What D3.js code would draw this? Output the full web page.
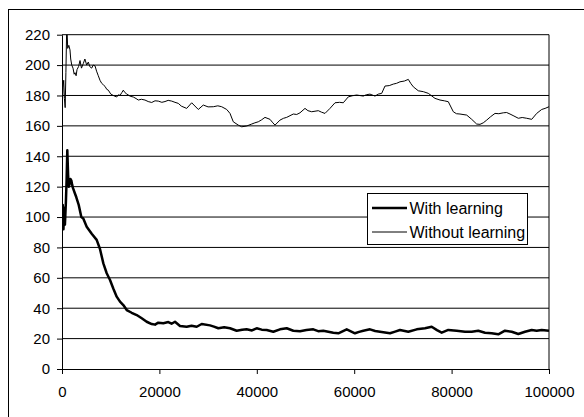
<!DOCTYPE html>
<html>
<head>
<meta charset="utf-8">
<script src="https://cdn.jsdelivr.net/npm/d3@7"></script>
<style>
  body { margin: 0; background: #fff; }
  svg { display: block; font-family: "Liberation Sans", Arial, sans-serif; }
</style>
</head>
<body>
<div id="container"></div>
<script>
// "With learning" (thick line): step, value
const withX = [0, 150, 300, 450, 600, 800, 950, 1090, 1250, 1400, 1570, 1750, 1920, 2100, 2260, 2600, 2940, 3430, 3970, 4370, 5070, 6100, 7120, 7800, 8490, 9180, 9860, 10530, 11230, 11910, 12590, 13290, 14310, 15340, 16370, 17390, 18420, 19100, 19770, 20800, 21830, 22500, 23200, 24230, 25600, 26600, 27660, 28680, 30390, 31200, 32100, 33300, 34500, 35870, 37000, 37920, 39000, 39980, 41000, 42030, 43390, 44760, 46140, 47500, 48870, 50200, 51600, 52600, 53650, 55710, 56740, 57600, 58460, 60160, 61000, 61870, 63240, 64300, 65300, 67350, 68400, 69400, 71110, 72830, 74540, 75910, 77000, 77970, 79320, 81040, 82750, 84130, 85480, 86860, 88230, 89590, 90960, 92340, 93700, 95070, 96450, 97470, 98500, 100000];
const withY = [100, 108, 92, 106, 95, 110, 125, 144, 128, 120, 122, 125, 124, 121, 119, 116, 113, 108, 100, 99, 93.6, 89, 85, 79, 69.5, 63, 58.6, 53, 47.6, 44.3, 42.1, 38.8, 37, 35.5, 33.4, 31.1, 29.6, 29.2, 30.5, 30.1, 30.9, 29.8, 31.1, 28.3, 27.8, 28.4, 27.8, 29.6, 28.7, 27.9, 26.8, 27.5, 26.8, 25.2, 25.8, 26.1, 25.4, 26.8, 25.9, 25.7, 24.5, 26.1, 26.8, 25.2, 24.8, 25.6, 26.1, 24.9, 25.2, 23.9, 23.5, 24.8, 26.1, 23.5, 24.4, 25.2, 26.1, 25.0, 24.5, 23.5, 24.6, 25.7, 24.5, 26.1, 26.8, 27.8, 25.6, 23.9, 25.7, 25.2, 24.5, 24.5, 25.2, 23.9, 23.5, 22.8, 25.2, 24.5, 23, 24.5, 25.7, 25.2, 25.7, 25.2];

// "Without learning" (thin line)
const withoutX = [0, 200, 350, 500, 650, 800, 950, 1030, 1170, 1400, 1640, 1790, 2000, 2260, 2500, 2670, 2900, 3080, 3400, 3700, 4000, 4370, 4700, 5070, 5400, 5700, 6100, 6400, 6780, 7100, 7450, 7800, 8150, 8500, 8830, 9200, 9510, 10000, 10530, 11230, 11600, 11910, 12300, 12590, 12900, 13290, 14000, 14640, 15200, 15670, 16300, 17040, 17700, 18420, 19100, 19770, 20500, 21150, 21800, 22530, 23200, 23880, 24500, 25600, 26630, 27990, 29010, 30000, 31070, 32000, 32790, 33820, 34500, 35170, 36200, 36900, 37920, 38950, 39600, 40310, 41000, 41680, 42710, 43300, 43740, 44760, 45500, 46140, 47500, 48200, 48870, 49900, 50500, 51270, 52630, 53300, 54000, 55030, 56060, 57000, 57760, 58790, 59600, 60510, 61870, 62500, 63240, 64270, 64950, 65650, 66320, 67200, 68030, 68700, 69400, 70300, 71110, 71600, 72140, 73160, 74200, 75220, 76590, 77620, 78500, 79320, 80350, 81000, 81720, 83100, 84130, 85150, 85830, 86500, 87210, 88000, 88910, 89700, 90620, 91300, 91990, 92800, 93700, 94500, 95420, 96450, 97470, 98500, 99200, 100000];
const withoutY = [168, 185, 190, 178, 172, 195, 222, 224, 211, 213, 210, 204, 200, 198, 194, 195, 193, 197, 199, 203, 198, 201, 204, 200, 202, 199, 198, 200, 199.5, 196, 193, 190, 188, 187, 186, 184, 183.5, 181, 180, 179, 180.5, 180, 182, 183.5, 182, 181, 179.5, 179, 178, 177, 177.5, 177, 176, 175.4, 176.5, 176.3, 175.5, 176, 176.8, 176.3, 175.5, 174.8, 173, 171.5, 175.2, 170.8, 173.7, 172.5, 172.6, 173.2, 172.6, 170.8, 168.2, 162.7, 160.5, 159.4, 159.9, 161.2, 162, 162.7, 164, 165.6, 164.3, 162, 160.5, 163.8, 165, 165.6, 167.8, 167.5, 168.6, 171.5, 170, 169.3, 170, 169, 168.2, 171.5, 175.2, 175.5, 175.2, 179.1, 179.8, 180.3, 179.6, 180.5, 180.9, 179.6, 180.9, 181.4, 186.2, 186.5, 187.5, 188, 189, 189.5, 190.6, 188, 185.7, 183.1, 182.5, 181.4, 178.1, 177, 176.5, 175.9, 169.3, 168, 167.8, 167.1, 164.3, 161.2, 161, 162, 163.8, 166, 168.2, 168, 168.6, 168.8, 167.8, 166.5, 165, 165.5, 165, 164.3, 168.2, 170.8, 171.5, 172.6];

const xTicks = [0, 20000, 40000, 60000, 80000, 100000];
const yTicks = [0, 20, 40, 60, 80, 100, 120, 140, 160, 180, 200, 220];
const seriesNames = ["With learning", "Without learning"];

const w = 584, h = 417;
const margin = {top: 34.7, left: 62, bottom: 48, right: 35};

const svg = d3.select("#container").append("svg").attr("width", w).attr("height", h);

// outer chart border (only top & left show in frame)
svg.append("rect")
  .attr("x", 8.5).attr("y", 9.5)
  .attr("width", 600).attr("height", 420)
  .attr("fill", "none").attr("stroke", "#000").attr("stroke-width", 1);

const xScale = d3.scaleLinear().domain([0, 100000]).range([margin.left, w - margin.right]);
const yScale = d3.scaleLinear().domain([0, 220]).range([h - margin.bottom, margin.top]);

// gridlines
svg.append("g").selectAll("line")
  .data(yTicks.filter(d => d > 0))
  .enter().append("line")
    .attr("x1", xScale(0)).attr("x2", xScale(100000))
    .attr("y1", d => yScale(d)).attr("y2", d => yScale(d))
    .attr("stroke", "#000").attr("stroke-width", 1);

// plot area right edge
svg.append("line")
  .attr("x1", xScale(100000)).attr("x2", xScale(100000))
  .attr("y1", yScale(220)).attr("y2", yScale(0))
  .attr("stroke", "#000");

// axes
const xAxis = d3.axisBottom(xScale).tickValues(xTicks).tickFormat(d3.format("d")).tickSizeInner(5).tickSizeOuter(0).tickPadding(12);
const yAxis = d3.axisLeft(yScale).tickValues(yTicks).tickFormat(d3.format("d")).tickSizeInner(5).tickSizeOuter(0).tickPadding(7);

const xAxisGroup = svg.append("g").attr("transform", `translate(0, ${yScale(0)})`).call(xAxis);
const yAxisGroup = svg.append("g").attr("transform", `translate(${xScale(0)}, 0)`).call(yAxis);

[xAxisGroup, yAxisGroup].forEach(g => {
  g.selectAll("path, line").attr("stroke", "#000");
  g.selectAll("text").attr("fill", "#000").style("font-size", "15px").style("font-family", "'Liberation Sans', Arial, sans-serif");
});

// clip to plot area
svg.append("clipPath").attr("id", "plot-clip")
  .append("rect")
    .attr("x", xScale(0)).attr("y", yScale(220))
    .attr("width", xScale(100000) - xScale(0))
    .attr("height", yScale(0) - yScale(220));

const line = d3.line().x(d => xScale(d[0])).y(d => yScale(d[1]));

const withData = withX.map((x, i) => [x, withY[i]]);
const withoutData = withoutX.map((x, i) => [x, withoutY[i]]);

const lines = svg.append("g").attr("clip-path", "url(#plot-clip)");
lines.append("path").datum(withoutData)
  .attr("d", line).attr("fill", "none").attr("stroke", "#000").attr("stroke-width", 1);
lines.append("path").datum(withData)
  .attr("d", line).attr("fill", "none").attr("stroke", "#000").attr("stroke-width", 2.5)
  .attr("stroke-linejoin", "round");

// legend
const legend = svg.append("g").attr("transform", "translate(367.5, 193.5)");
legend.append("rect")
  .attr("width", 160).attr("height", 51)
  .attr("fill", "#fff").attr("stroke", "#000");

seriesNames.forEach((name, i) => {
  const y = 14.5 + i * 24;
  legend.append("line")
    .attr("x1", 4.5).attr("x2", 39.5).attr("y1", y).attr("y2", y)
    .attr("stroke", "#000").attr("stroke-width", i === 0 ? 2.5 : 1);
  legend.append("text")
    .attr("x", 42).attr("y", y).attr("dy", "0.35em")
    .style("font-size", "16px")
    .text(name);
});
</script>
</body>
</html>
